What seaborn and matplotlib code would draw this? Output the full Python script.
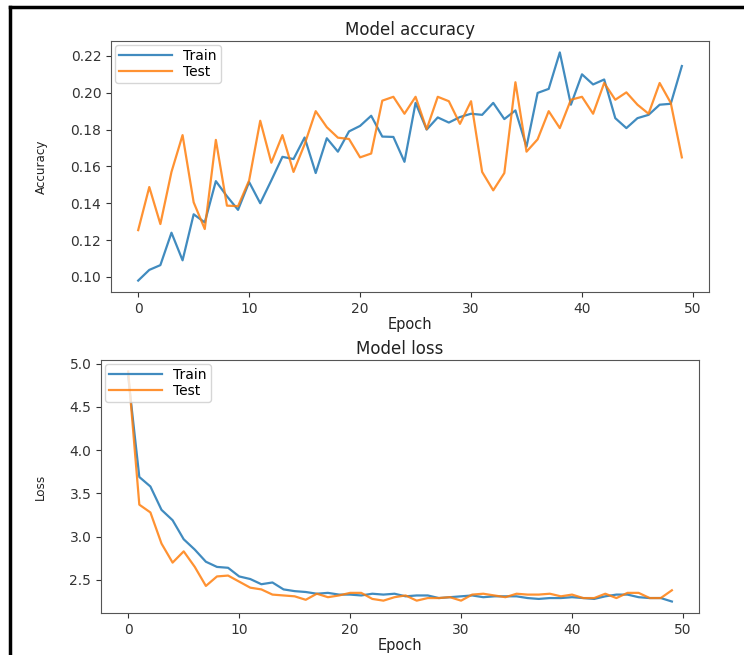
import matplotlib
matplotlib.use("Agg")
import matplotlib.pyplot as plt
from matplotlib.lines import Line2D
import numpy as np
import pandas as pd
import seaborn as sns

# values
epochs = list(range(50))

train_acc = [0.098, 0.1038, 0.1064, 0.124, 0.109, 0.134, 0.1296, 0.152, 0.1438, 0.1364,
             0.1515, 0.140, 0.1524, 0.1652, 0.164, 0.1757, 0.1564, 0.1753, 0.168, 0.179,
             0.182, 0.1875, 0.1762, 0.176, 0.1625, 0.1945, 0.180, 0.1866, 0.1838, 0.1868,
             0.1886, 0.188, 0.1945, 0.1857, 0.1904, 0.1707, 0.1999, 0.2021, 0.2219, 0.1935,
             0.210, 0.2045, 0.2072, 0.1862, 0.1808, 0.1862, 0.188, 0.1935, 0.194, 0.2145]
test_acc = [0.1254, 0.1488, 0.1287, 0.157, 0.177, 0.1405, 0.126, 0.1744, 0.1387, 0.1384,
            0.1524, 0.1848, 0.162, 0.177, 0.157, 0.172, 0.190, 0.1813, 0.1756, 0.1749,
            0.1649, 0.167, 0.1957, 0.1978, 0.1886, 0.1978, 0.1802, 0.1978, 0.1954, 0.1831,
            0.1954, 0.157, 0.147, 0.1564, 0.2057, 0.168, 0.1747, 0.190, 0.1808, 0.1962,
            0.1978, 0.1886, 0.2053, 0.1962, 0.2002, 0.1935, 0.1886, 0.2053, 0.1945, 0.1649]

train_loss = [4.85, 3.69, 3.58, 3.31, 3.19, 2.97, 2.85, 2.71, 2.65, 2.64,
              2.54, 2.51, 2.45, 2.47, 2.39, 2.37, 2.36, 2.34, 2.35, 2.33,
              2.33, 2.32, 2.34, 2.33, 2.34, 2.31, 2.32, 2.32, 2.29, 2.30,
              2.31, 2.32, 2.30, 2.31, 2.31, 2.31, 2.29, 2.28, 2.29, 2.29,
              2.30, 2.29, 2.28, 2.31, 2.33, 2.33, 2.30, 2.29, 2.29, 2.25]
test_loss = [4.91, 3.37, 3.28, 2.92, 2.70, 2.83, 2.65, 2.43, 2.54, 2.55,
             2.48, 2.41, 2.39, 2.33, 2.32, 2.31, 2.27, 2.34, 2.30, 2.32,
             2.35, 2.35, 2.28, 2.26, 2.30, 2.32, 2.26, 2.29, 2.29, 2.30,
             2.26, 2.33, 2.34, 2.32, 2.30, 2.34, 2.33, 2.33, 2.34, 2.31,
             2.33, 2.29, 2.29, 2.34, 2.29, 2.35, 2.35, 2.29, 2.29, 2.38]

acc_df = pd.DataFrame({"epoch": epochs * 2,
                       "value": train_acc + test_acc,
                       "set": ["Train"] * 50 + ["Test"] * 50})
loss_df = pd.DataFrame({"epoch": epochs * 2,
                        "value": train_loss + test_loss,
                        "set": ["Train"] * 50 + ["Test"] * 50})

pal = {"Train": "#1f77b4", "Test": "#ff7f0e"}

fig = plt.figure(figsize=(7.44, 6.55), dpi=100)
ax1 = fig.add_axes([0.1492, 0.5542, 0.8038, 0.3832])
ax2 = fig.add_axes([0.1358, 0.0641, 0.8038, 0.3863])

for ax, df, title, ylab in [(ax1, acc_df, "Model accuracy", "Accuracy"),
                            (ax2, loss_df, "Model loss", "Loss")]:
    sns.lineplot(data=df, x="epoch", y="value", hue="set", palette=pal,
                 linewidth=1.6, alpha=0.85, ax=ax)
    ax.set_title(title, fontsize=12, color="#222222", pad=4)
    ax.set_xlabel("Epoch", fontsize=10.5, color="#222222", labelpad=1)
    ax.set_ylabel(ylab, fontsize=9.5, color="#222222", labelpad=16,
                  fontstretch="condensed")
    ax.tick_params(labelsize=10, colors="#333333")
    for s in ax.spines.values():
        s.set_color("#555555")
    h, l = ax.get_legend_handles_labels()
    ax.legend(h, l, loc="upper left", fontsize=10, borderaxespad=0.3,
              handlelength=3.8, labelspacing=0.1, borderpad=0.3)

ax2.set_yticks(np.arange(2.5, 5.01, 0.5))

# screenshot frame lines on the left and top edge
fig.add_artist(Line2D([0.0128, 0.0128], [0, 0.989], color="black", lw=2.5))
fig.add_artist(Line2D([0.0128, 1.0], [0.989, 0.989], color="black", lw=2.5))

fig.savefig("out.png", dpi=100)
